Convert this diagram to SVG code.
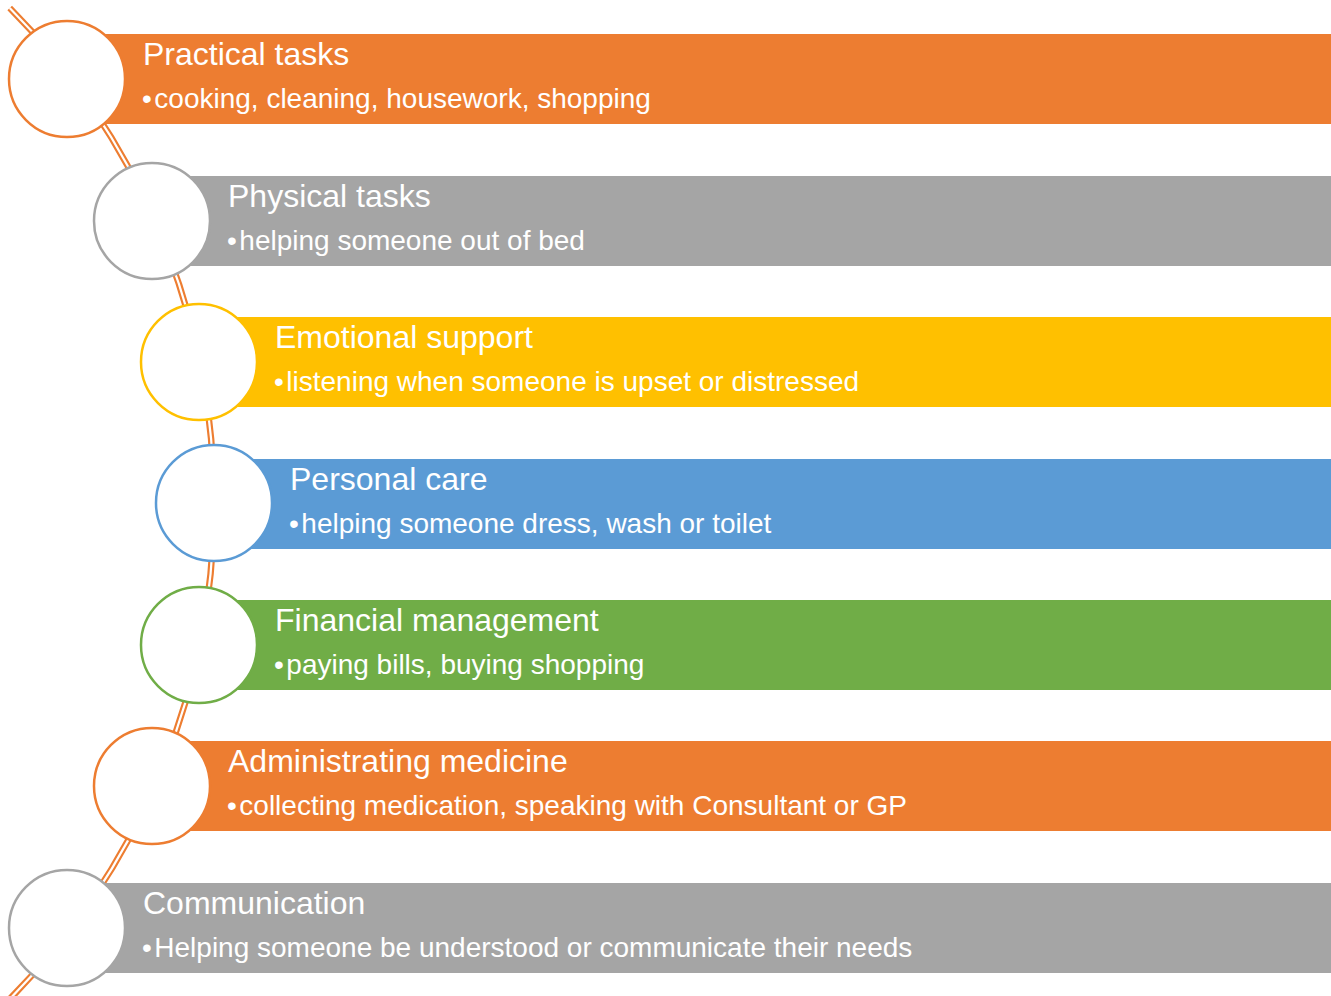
<svg xmlns="http://www.w3.org/2000/svg" width="1331" height="996" viewBox="0 0 1331 996">
<style>
.t{font-family:"Liberation Sans",Arial,sans-serif;fill:#fff;font-size:32px}
.b{font-family:"Liberation Sans",Arial,sans-serif;fill:#fff;font-size:28px}
.c{fill:#fff;stroke-width:2.5}
</style>
<rect width="1331" height="996" fill="#fff"/>
<g id="connectors">
<path d="M 9.7 8 A 703 703 0 0 1 9.7 999" fill="none" stroke="#ED7D31" stroke-width="6.5"/>
<path d="M 9.7 8 A 703 703 0 0 1 9.7 999" fill="none" stroke="#fff" stroke-width="2.2"/>
</g>
<g id="n1"><rect x="67" y="34" width="1264" height="90" fill="#ED7D31"/><circle class="c" cx="67" cy="79" r="58" stroke="#ED7D31"/><text class="t" x="143" y="65">Practical tasks</text><text class="b" x="142" y="108">•<tspan dx="2.5">cooking, cleaning, housework, shopping</tspan></text></g>
<g id="n2"><rect x="152" y="176" width="1179" height="90" fill="#A5A5A5"/><circle class="c" cx="152" cy="221" r="58" stroke="#A5A5A5"/><text class="t" x="228" y="207">Physical tasks</text><text class="b" x="227" y="250">•<tspan dx="2.5">helping someone out of bed</tspan></text></g>
<g id="n3"><rect x="199" y="317" width="1132" height="90" fill="#FFC000"/><circle class="c" cx="199" cy="362" r="58" stroke="#FFC000"/><text class="t" x="275" y="348">Emotional support</text><text class="b" x="274" y="391">•<tspan dx="2.5">listening when someone is upset or distressed</tspan></text></g>
<g id="n4"><rect x="214" y="459" width="1117" height="90" fill="#5B9BD5"/><circle class="c" cx="214" cy="503" r="58" stroke="#5B9BD5"/><text class="t" x="290" y="490">Personal care</text><text class="b" x="289" y="533">•<tspan dx="2.5">helping someone dress, wash or toilet</tspan></text></g>
<g id="n5"><rect x="199" y="600" width="1132" height="90" fill="#70AD47"/><circle class="c" cx="199" cy="645" r="58" stroke="#70AD47"/><text class="t" x="275" y="631">Financial management</text><text class="b" x="274" y="674">•<tspan dx="2.5">paying bills, buying shopping</tspan></text></g>
<g id="n6"><rect x="152" y="741" width="1179" height="90" fill="#ED7D31"/><circle class="c" cx="152" cy="786" r="58" stroke="#ED7D31"/><text class="t" x="228" y="772">Administrating medicine</text><text class="b" x="227" y="815">•<tspan dx="2.5">collecting medication, speaking with Consultant or GP</tspan></text></g>
<g id="n7"><rect x="67" y="883" width="1264" height="90" fill="#A5A5A5"/><circle class="c" cx="67" cy="928" r="58" stroke="#A5A5A5"/><text class="t" x="143" y="914">Communication</text><text class="b" x="142" y="957">•<tspan dx="2.5">Helping someone be understood or communicate their needs</tspan></text></g>
</svg>
